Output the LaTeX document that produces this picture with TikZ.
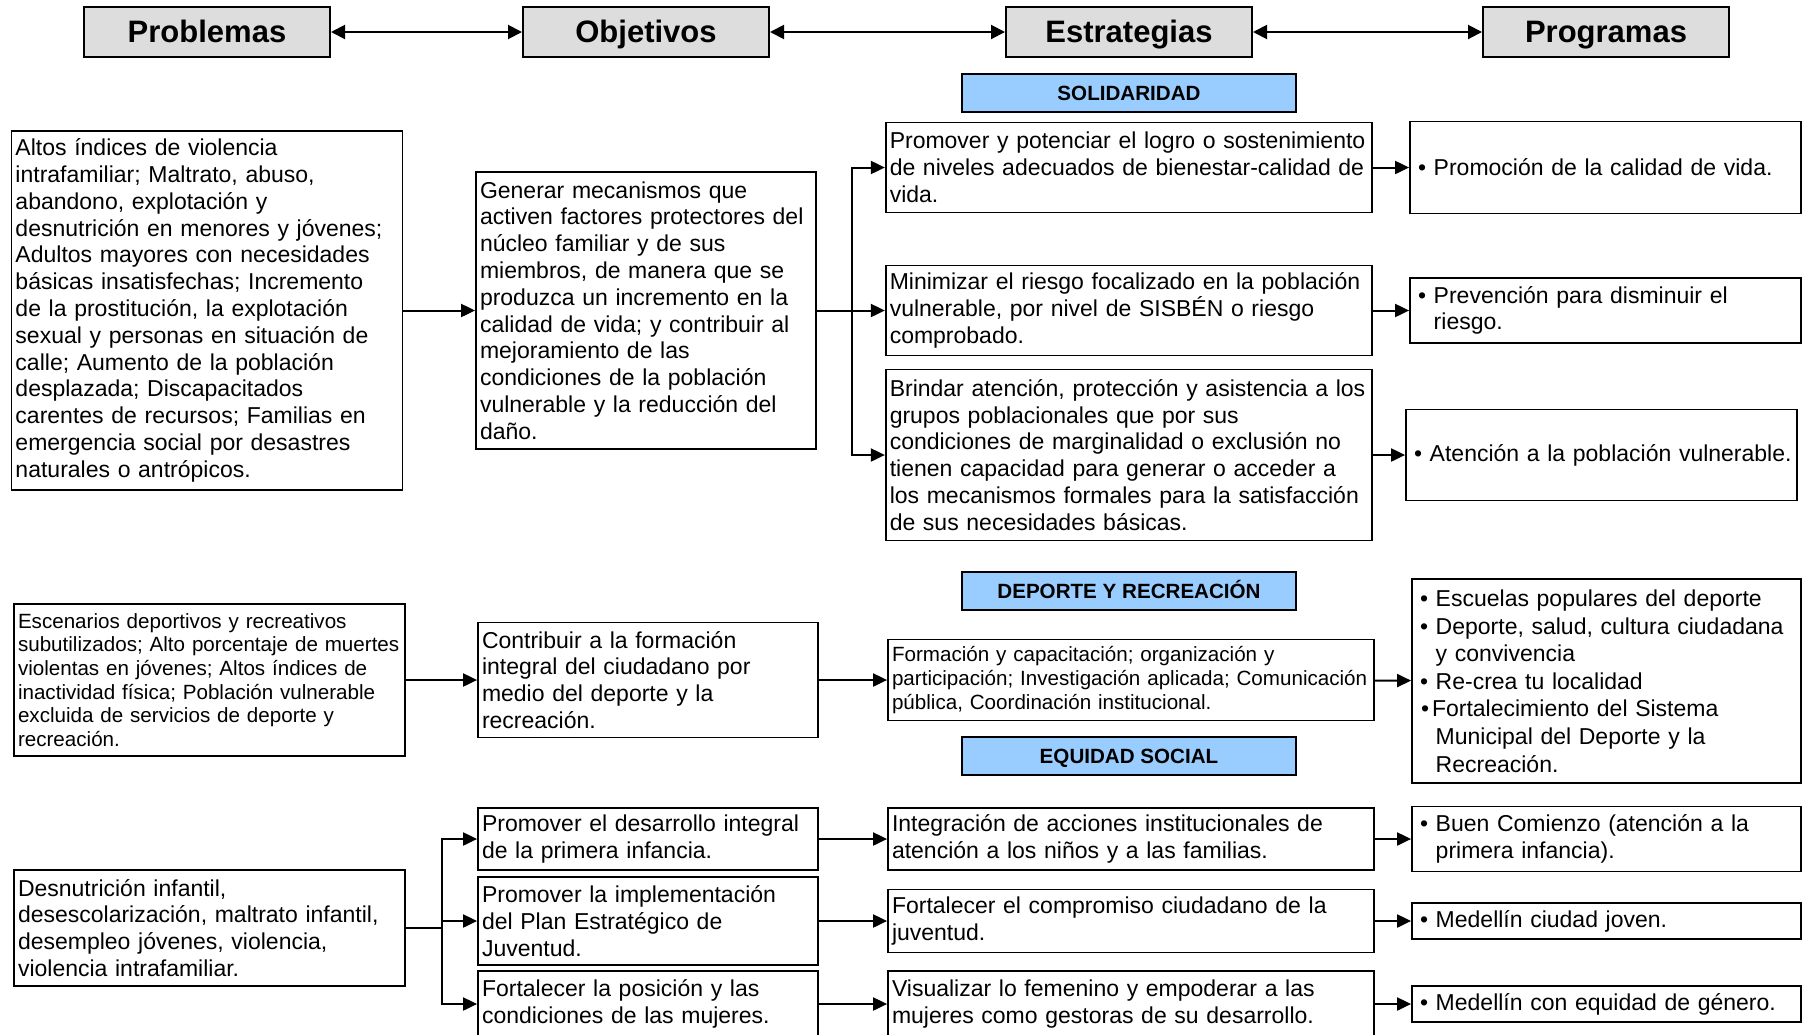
\documentclass[tikz,border=0pt]{standalone}
\usepackage{fontspec}
\setmainfont{Liberation Sans}
\usepackage{tikz}
\usetikzlibrary{arrows.meta}
\definecolor{cabecera}{RGB}{221,221,221}
\definecolor{ejecolor}{RGB}{153,204,255}
\newcommand{\vineta}{\hspace*{4pt}•~}
\newcommand{\sangria}{\hspace*{4pt}\phantom{•~}}

\begin{document}
\begin{tikzpicture}[
    x=1pt, y=-1pt,
    % Estilos
    titulo/.style={
        draw,
        line width=2pt,
        fill=cabecera,
        minimum width=246pt,
        minimum height=50pt,
        text height=23pt,
        text depth=3pt,
        font=\fontsize{31}{36}\selectfont\bfseries
    },
    ejetema/.style={
        draw,
        line width=2pt,
        fill=ejecolor,
        minimum width=334pt,
        minimum height=38pt,
        text height=15pt,
        text depth=0pt,
        font=\fontsize{20.6}{24}\selectfont\bfseries
    },
    caja/.style={
        draw,
        line width=1.8pt,
        align=left,
        inner xsep=4pt,
        inner ysep=0pt,
        font=\fontsize{23}{26.8}\selectfont
    },
    cajachica/.style={
        caja,
        font=\fontsize{20.6}{23.6}\selectfont
    },
    flecha/.style={-{Triangle[length=14pt,width=13pt]}, line width=2pt},
    doble/.style={{Triangle[length=14pt,width=14pt]}-{Triangle[length=14pt,width=14pt]}, line width=2pt}
]
\useasboundingbox (0,0) rectangle (1803,1034);
\clip (0,0) rectangle (1803,1034);

% ============================================================================
% Cabeceras
% ============================================================================
\node[titulo] (problemas) at (207,32) {Problemas};
\node[titulo] (objetivos) at (646,32) {Objetivos};
\node[titulo] (estrategias) at (1129,32) {Estrategias};
\node[titulo] (programas) at (1606,32) {Programas};

% ============================================================================
% Ejes
% ============================================================================
\node[ejetema] (solidaridad) at (1129,93) {SOLIDARIDAD};
\node[ejetema] (deporte) at (1129,590.5) {DEPORTE Y RECREACIÓN};
\node[ejetema] (equidad) at (1129,756) {EQUIDAD SOCIAL};

% ============================================================================
% Solidaridad
% ============================================================================
\node[caja, text width=383pt, minimum height=359pt] (altos) at (207,310.5) {
    Altos índices de violencia\\
    intrafamiliar; Maltrato, abuso,\\
    abandono, explotación y\\
    desnutrición en menores y jóvenes;\\
    Adultos mayores con necesidades\\
    básicas insatisfechas; Incremento\\
    de la prostitución, la explotación\\
    sexual y personas en situación de\\
    calle; Aumento de la población\\
    desplazada; Discapacitados\\
    carentes de recursos; Familias en\\
    emergencia social por desastres\\
    naturales o antrópicos.
};
\node[caja, text width=332pt, minimum height=277.5pt] (generar) at (646,310.5) {
    Generar mecanismos que\\
    activen factores protectores del\\
    núcleo familiar y de sus\\
    miembros, de manera que se\\
    produzca un incremento en la\\
    calidad de vida; y contribuir al\\
    mejoramiento de las\\
    condiciones de la población\\
    vulnerable y la reducción del\\
    daño.
};
\node[caja, text width=478.5pt, minimum height=90pt] (potenciar) at (1129,167.5) {
    Promover y potenciar el logro o sostenimiento\\
    de niveles adecuados de bienestar-calidad de\\
    vida.
};
\node[caja, text width=478.5pt, minimum height=90pt] (minimizar) at (1129,310.5) {
    Minimizar el riesgo focalizado en la población\\
    vulnerable, por nivel de SISBÉN o riesgo\\
    comprobado.
};
\node[caja, text width=478.5pt, minimum height=171pt] (brindar) at (1129,455) {
    Brindar atención, protección y asistencia a los\\
    grupos poblacionales que por sus\\
    condiciones de marginalidad o exclusión no\\
    tienen capacidad para generar o acceder a\\
    los mecanismos formales para la satisfacción\\
    de sus necesidades básicas.
};
\node[caja, text width=383pt, minimum height=92pt] (promocion) at (1605.5,167.5) {
    \vineta Promoción de la calidad de vida.
};
\node[caja, text width=383pt, minimum height=65pt] (prevencion) at (1605.5,310.5) {
    \vineta Prevención para disminuir el\\
    \sangria riesgo.
};
\node[caja, text width=383pt, minimum height=91pt] (atencion) at (1601.5,455) {
    \vineta Atención a la población vulnerable.
};

% ============================================================================
% Deporte y recreación
% ============================================================================
\node[cajachica, text width=383pt, minimum height=151.5pt] (escenarios) at (209.5,680) {
    Escenarios deportivos y recreativos\\
    subutilizados; Alto porcentaje de muertes\\
    violentas en jóvenes; Altos índices de\\
    inactividad física; Población vulnerable\\
    excluida de servicios de deporte y\\
    recreación.
};
\node[caja, text width=332pt, minimum height=115pt] (contribuir) at (648,680) {
    Contribuir a la formación\\
    integral del ciudadano por\\
    medio del deporte y la\\
    recreación.
};
\node[cajachica, text width=478pt, minimum height=81pt] (formacion) at (1131,680) {
    Formación y capacitación; organización y\\
    participación; Investigación aplicada; Comunicación\\
    pública, Coordinación institucional.
};
\node[caja, text width=381pt, minimum height=204pt, font=\fontsize{23}{27.6}\selectfont] (escuelas) at (1606.5,681) {
    \vineta Escuelas populares del deporte\\
    \vineta Deporte, salud, cultura ciudadana\\
    \sangria y convivencia\\
    \vineta Re-crea tu localidad\\
    \hspace*{5pt}•\hspace{3pt}Fortalecimiento del Sistema\\
    \sangria Municipal del Deporte y la\\
    \sangria Recreación.
};

% ============================================================================
% Equidad social
% ============================================================================
\node[caja, text width=383pt, minimum height=116.5pt] (desnutricion) at (209.5,928) {
    Desnutrición infantil,\\
    desescolarización, maltrato infantil,\\
    desempleo jóvenes, violencia,\\
    violencia intrafamiliar.
};
\node[caja, text width=332pt, minimum height=62pt] (desarrollo) at (648,839) {
    Promover el desarrollo integral\\
    de la primera infancia.
};
\node[caja, text width=332pt, minimum height=88pt] (plan) at (648,921) {
    Promover la implementación\\
    del Plan Estratégico de\\
    Juventud.
};
\node[caja, text width=332pt, minimum height=66pt] (mujeres) at (648,1004) {
    Fortalecer la posición y las\\
    condiciones de las mujeres.
};
\node[caja, text width=478pt, minimum height=62pt] (integracion) at (1131,839) {
    Integración de acciones institucionales de\\
    atención a los niños y a las familias.
};
\node[caja, text width=478pt, minimum height=63pt] (compromiso) at (1131,921) {
    Fortalecer el compromiso ciudadano de la\\
    juventud.
};
\node[caja, text width=478pt, minimum height=66pt] (visualizar) at (1131,1004) {
    Visualizar lo femenino y empoderar a las\\
    mujeres como gestoras de su desarrollo.
};
\node[caja, text width=381pt, minimum height=65pt] (comienzo) at (1606.5,839) {
    \vineta Buen Comienzo (atención a la\\
    \sangria primera infancia).
};
\node[caja, text width=381pt, minimum height=36.5pt] (joven) at (1606.5,921) {
    \vineta Medellín ciudad joven.
};
\node[caja, text width=381pt, minimum height=36pt] (genero) at (1606.5,1004) {
    \vineta Medellín con equidad de género.
};

% ============================================================================
% Flechas
% ============================================================================
\draw[doble] (problemas) -- (objetivos);
\draw[doble] (objetivos) -- (estrategias);
\draw[doble] (estrategias) -- (programas);

\draw[flecha] (altos) -- (generar);
\draw[flecha] (generar.east) -- ++(35,0) |- (potenciar.west);
\draw[flecha] (generar) -- (minimizar);
\draw[flecha] (generar.east) -- ++(35,0) |- (brindar.west);
\draw[flecha] (potenciar) -- (promocion);
\draw[flecha] (minimizar) -- (prevencion);
\draw[flecha] (brindar) -- (atencion);

\draw[flecha] (escenarios) -- (contribuir);
\draw[flecha] (contribuir) -- (formacion);
\draw[flecha] (formacion) -- (escuelas);

\draw[flecha] (desnutricion.east) -- ++(36,0) |- (desarrollo.west);
\draw[flecha] (desnutricion.east) -- ++(36,0) |- (plan.west);
\draw[flecha] (desnutricion.east) -- ++(36,0) |- (mujeres.west);
\draw[flecha] (desarrollo) -- (integracion);
\draw[flecha] (plan) -- (compromiso);
\draw[flecha] (mujeres) -- (visualizar);
\draw[flecha] (integracion) -- (comienzo);
\draw[flecha] (compromiso) -- (joven);
\draw[flecha] (visualizar) -- (genero);

\end{tikzpicture}
\end{document}
